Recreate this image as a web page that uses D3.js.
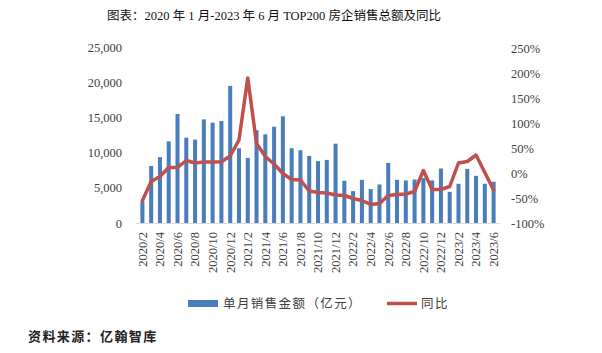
<!DOCTYPE html>
<html><head><meta charset="utf-8">
<script src="https://cdn.jsdelivr.net/npm/d3@7/dist/d3.min.js"></script>
<style>body{margin:0;background:#fff;}svg{display:block;}</style>
</head><body>
<script>
const months = [];
for (let y = 2020; y <= 2023; y++) for (let m = 1; m <= 12; m++) {
  if ((y === 2020 && m < 2) || (y === 2023 && m > 6)) continue;
  months.push(y + "/" + m);
}
const sales = [3060, 8110, 9350, 11600, 15480, 12120, 11840, 14720, 14250, 14480, 19480,
  10620, 9250, 13170, 12600, 13680, 15150, 10620, 10330, 9530, 8780,
  8960, 11270, 5990, 4530, 6130, 4810, 5470, 8540, 6130, 6040,
  6180, 6370, 6040, 7740, 4430, 5570, 7690, 6700, 5570, 5850];
const yoy = [-55, -17, -7, 11, 11, 25, 20, 22, 22, 22.5, 34,
  66, 190, 59, 33, 18, -1, -13, -14, -36, -39,
  -40, -44, -45, -51, -55, -63, -61, -45, -43, -42,
  -37, 5, -33, -33, -27, 20, 23, 36, 1, -34];
const leftTicks = [0, 5000, 10000, 15000, 20000, 25000];
const rightTicks = [-100, -50, 0, 50, 100, 150, 200, 250];
const titleText = "图表：2020 年 1 月-2023 年 6 月 TOP200 房企销售总额及同比";
const legendNames = ["单月销售金额（亿元）", "同比"];
const sourceText = "资料来源：亿翰智库";

const W = 602, H = 353;
const font = "'Liberation Serif','Noto Sans CJK SC',serif";
const svg = d3.select("body").append("svg").attr("width", W).attr("height", H);

const x = d3.scaleBand().domain(months).range([138, 498]).paddingInner(0.54).paddingOuter(0.27);
const yL = d3.scaleLinear().domain([0, 25000]).range([223, 47]);
const yR = d3.scaleLinear().domain([-100, 250]).range([223, 48]);

svg.append("text").attr("x", 274).attr("y", 20).attr("text-anchor", "middle")
  .attr("font-family", font).attr("font-size", 12.5).attr("fill", "#111").text(titleText);

// bars
svg.append("g").selectAll("rect").data(sales).join("rect")
  .attr("x", (d, i) => x(months[i])).attr("width", x.bandwidth())
  .attr("y", d => yL(d)).attr("height", d => yL(0) - yL(d)).attr("fill", "#4a7ebb");

// baseline
svg.append("line").attr("x1", 136).attr("x2", 500).attr("y1", 223.5).attr("y2", 223.5)
  .attr("stroke", "#d9d9d9").attr("stroke-width", 1);

// line
const line = d3.line().x((d, i) => x(months[i]) + x.bandwidth() / 2).y(d => yR(d));
svg.append("path").datum(yoy).attr("d", line).attr("fill", "none")
  .attr("stroke", "#c0504d").attr("stroke-width", 3.5).attr("stroke-linejoin", "round").attr("stroke-linecap", "round");

// left axis
const gl = svg.append("g").attr("transform", "translate(126,0)")
  .call(d3.axisLeft(yL).tickValues(leftTicks).tickSize(0).tickPadding(4).tickFormat(d3.format(",")));
gl.select(".domain").remove();
gl.selectAll("text").attr("font-family", font).attr("font-size", 12.5).attr("fill", "#404040");

// right axis
const gr = svg.append("g").attr("transform", "translate(507,0)")
  .call(d3.axisRight(yR).tickValues(rightTicks).tickSize(0).tickPadding(4).tickFormat(d => d + "%"));
gr.select(".domain").remove();
gr.selectAll("text").attr("font-family", font).attr("font-size", 12.5).attr("fill", "#404040");

// x axis
const xTicks = months.filter((d, i) => i % 2 === 0);
const gx = svg.append("g").attr("transform", "translate(0,226)")
  .call(d3.axisBottom(x).tickValues(xTicks).tickSize(0).tickPadding(0));
gx.select(".domain").remove();
gx.selectAll("text").attr("font-family", font).attr("font-size", 12.5).attr("fill", "#404040")
  .attr("transform", "rotate(-90)").attr("text-anchor", "end").attr("dy", "0.35em").attr("x", -6).attr("y", 0);

// legend
svg.append("rect").attr("x", 188).attr("y", 300).attr("width", 30).attr("height", 7).attr("fill", "#4a7ebb");
svg.append("text").attr("x", 223).attr("y", 308).attr("font-family", font).attr("font-size", 12.5)
  .attr("letter-spacing", 1.4).attr("fill", "#404040").text(legendNames[0]);
svg.append("line").attr("x1", 387).attr("x2", 417).attr("y1", 303.5).attr("y2", 303.5)
  .attr("stroke", "#c0504d").attr("stroke-width", 3.5);
svg.append("text").attr("x", 421).attr("y", 308).attr("font-family", font).attr("font-size", 12.5)
  .attr("letter-spacing", 1.4).attr("fill", "#404040").text(legendNames[1]);

// source
svg.append("text").attr("x", 28).attr("y", 341).attr("font-family", font).attr("font-size", 13)
  .attr("letter-spacing", 1.4).attr("font-weight", "bold").attr("fill", "#222").text(sourceText);
</script>
</body></html>
